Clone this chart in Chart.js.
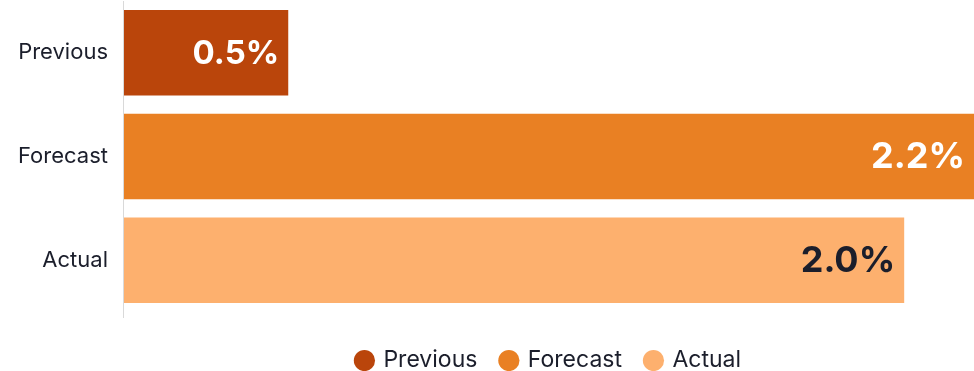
<!DOCTYPE html>
<html>
<head>
<meta charset="utf-8">
<script src="https://cdn.jsdelivr.net/npm/chart.js@4/dist/chart.umd.min.js"></script>
<style>
html,body{margin:0;padding:0;background:#ffffff;}
#wrap{width:974px;height:371px;position:relative;}
</style>
</head>
<body>
<div id="wrap"><canvas id="c"></canvas></div>
<script>
const categories = ["Previous", "Forecast", "Actual"];
const seriesNames = ["Previous", "Forecast", "Actual"];
const values = [0.5, 2.2, 2.0];
const valueLabels = ["0.5%", "2.2%", "2.0%"];
const colors = ["#ba450b", "#e98023", "#fdb06e"];
const labelColors = ["#ffffff", "#ffffff", "#1b1e2b"];
const labelSizes = [33, 36, 36];

const datasets = seriesNames.map((name, i) => ({
  label: name,
  data: categories.map((c, j) => (j === i ? values[i] : null)),
  backgroundColor: colors[i],
  borderWidth: 0,
  barPercentage: 0.825,
  categoryPercentage: 1.0
}));

const valueLabelPlugin = {
  id: 'valueLabels',
  afterDatasetsDraw(chart) {
    const ctx = chart.ctx;
    const area = chart.chartArea;
    chart.data.datasets.forEach((ds, i) => {
      const meta = chart.getDatasetMeta(i);
      meta.data.forEach((bar, j) => {
        if (ds.data[j] == null) return;
        const xEnd = Math.min(bar.x, area.right);
        ctx.save();
        ctx.font = '700 ' + labelSizes[i] + 'px Inter';
        ctx.fillStyle = labelColors[i];
        ctx.textAlign = 'right';
        ctx.textBaseline = 'middle';
        ctx.fillText(valueLabels[i], xEnd - 9, bar.y + 1);
        ctx.restore();
      });
    });
  }
};

new Chart(document.getElementById('c'), {
  type: 'bar',
  data: { labels: categories, datasets: datasets },
  options: {
    indexAxis: 'y',
    responsive: true,
    maintainAspectRatio: false,
    animation: false,
    skipNull: true,
    layout: { padding: { top: 1, right: 0, left: 10, bottom: -11 } },
    scales: {
      x: {
        min: 0.1,
        max: 2.17,
        display: true,
        border: { display: false },
        grid: {
          drawOnChartArea: false,
          drawTicks: true,
          tickLength: 6,
          color: (ctx) => ctx.index === 0 ? '#d9d9d9' : 'rgba(0,0,0,0)'
        },
        ticks: { display: false },
        afterFit(scale) { scale.height = 13; }
      },
      y: {
        border: { display: true, color: '#d9d9d9', width: 1 },
        grid: { display: false },
        ticks: {
          color: '#1b1e2b',
          font: { family: 'Inter', size: 22 },
          padding: 8
        },
        afterFit(scale) { scale.paddingTop = 0; scale.paddingBottom = 0; }
      }
    },
    plugins: {
      legend: {
        position: 'bottom',
        fullSize: false,
        labels: {
          usePointStyle: true,
          pointStyle: 'circle',
          boxWidth: 15,
          boxHeight: 15,
          color: '#1b1e2b',
          font: { family: 'Inter', size: 23 },
          padding: 24
        }
      },
      tooltip: { enabled: false }
    }
  },
  plugins: [valueLabelPlugin]
});
</script>
</body>
</html>
